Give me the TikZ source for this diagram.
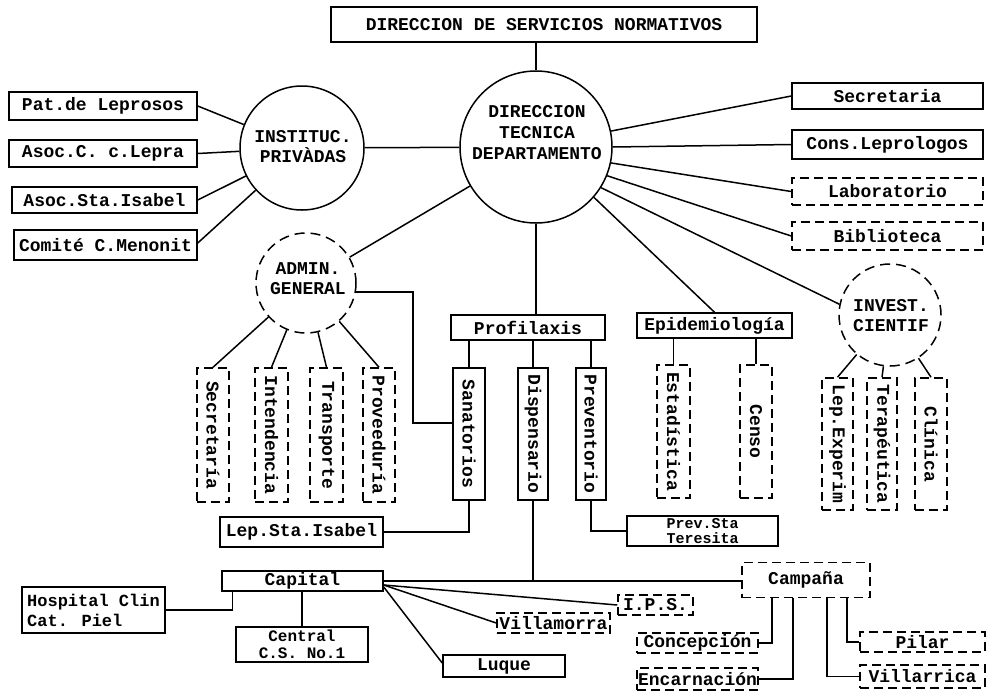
\documentclass[tikz,border=0pt]{standalone}
\usepackage{fontspec}
\setmainfont{Liberation Mono}
\usepackage{graphicx}
\begin{document}
\begin{tikzpicture}[x=1pt,y=-1pt,line width=1.5pt,
  every node/.style={font=\fontsize{18}{20}\selectfont\bfseries},
  box/.style={draw, line width=1.5pt, inner sep=0pt},
  dbox/.style={box, dash pattern=on 9pt off 5pt},
  circ/.style={draw, circle, line width=1.5pt, inner sep=0pt},
  dcirc/.style={circ, dash pattern=on 10pt off 6pt},
  lbl/.style={align=center, inner sep=0pt}]
\useasboundingbox (0,0) rectangle (987,694);
\fill[white] (0,0) rectangle (987,694);

% top level
\node[box, minimum width=426pt, minimum height=35pt] (top) at (544,24.5) {DIRECCION DE SERVICIOS NORMATIVOS};
\node[circ, minimum size=152pt] (main) at (536,147) {};
\node[lbl, font=\fontsize{18}{21}\selectfont\bfseries] (maint) at (537,133) {DIRECCION\\TECNICA\\DEPARTAMENTO};
\node[circ, minimum size=124pt] (inst) at (302,148) {};
\node[lbl] (instt) at (303,147) {INSTITUC.\\PRIVÀDAS};
\node[dcirc, minimum size=100pt] (admin) at (306,283) {};
\node[lbl] (admint) at (308,279) {ADMIN.\\GENERAL};
\node[dcirc, minimum size=102pt] (invest) at (890,315) {};
\node[lbl] (investt) at (891,316) {INVEST.\\CIENTIF};

% left boxes
\node[box, minimum width=188pt, minimum height=28pt] (pat) at (103,106) {Pat.de Leprosos};
\node[box, minimum width=188pt, minimum height=27pt] (asocc) at (103,153.5) {Asoc.C. c.Lepra};
\node[box, minimum width=185pt, minimum height=26pt] (asocs) at (104.5,200) {Asoc.Sta.Isabel};
\node[box, minimum width=183pt, minimum height=30pt] (comite) at (105.5,245) {Comité C.Menonit};

% right boxes
\node[box, minimum width=191pt, minimum height=26pt] (secr) at (887.5,96) {Secretaria};
\node[box, minimum width=191pt, minimum height=29pt] (cons) at (887.5,144.5) {Cons.Leprologos};
\node[dbox, minimum width=191pt, minimum height=27pt] (lab) at (887.5,191.5) {Laboratorio};
\node[dbox, minimum width=191pt, minimum height=28pt] (bib) at (887.5,236) {Biblioteca};

% profilaxis
\node[box, minimum width=154pt, minimum height=25pt] (profil) at (528,327.5) {Profilaxis};
\node[box, minimum width=32pt, minimum height=132pt] (sanat) at (469,434) {\rotatebox{-90}{Sanatorios}};
\node[box, minimum width=30pt, minimum height=132pt] (disp) at (533,434) {\rotatebox{-90}{Dispensario}};
\node[box, minimum width=30pt, minimum height=132pt] (prev) at (591,434) {\rotatebox{-90}{Preventorio}};

% admin subs
\node[dbox, minimum width=32pt, minimum height=134pt] (secA) at (213,435) {\rotatebox{-90}{Secretaría}};
\node[dbox, minimum width=33pt, minimum height=134pt] (intend) at (271.5,435) {\rotatebox{-90}{Intendencia}};
\node[dbox, minimum width=33pt, minimum height=134pt] (transp) at (326.5,435) {\rotatebox{-90}{Transporte}};
\node[dbox, minimum width=32pt, minimum height=134pt] (prov) at (379,435) {\rotatebox{-90}{Proveeduría}};

% epidemiologia
\node[box, minimum width=155pt, minimum height=25pt] (epi) at (714.5,325.5) {Epidemiología};
\node[dbox, minimum width=33pt, minimum height=133pt] (estad) at (673.5,431.5) {\rotatebox{-90}{Estadística}};
\node[dbox, minimum width=32pt, minimum height=133pt] (censo) at (756,431.5) {\rotatebox{-90}{Censo}};

% invest subs
\node[dbox, minimum width=31pt, minimum height=132pt] (lepexp) at (837.5,444) {\rotatebox{-90}{Lep.Experim}};
\node[dbox, minimum width=30pt, minimum height=132pt] (terap) at (882,444) {\rotatebox{-90}{Terapéutica}};
\node[dbox, minimum width=32pt, minimum height=132pt] (clin) at (931,444) {\rotatebox{-90}{Clínica}};

% lower
\node[box, minimum width=163pt, minimum height=30pt] (lepsta) at (301.5,532) {Lep.Sta.Isabel};
\node[box, minimum width=151pt, minimum height=30pt, align=center, font=\fontsize{15}{15}\selectfont\bfseries] (prevsta) at (702.5,531) {Prev.Sta\\Teresita};
\node[box, minimum width=161pt, minimum height=20pt] (capital) at (302.5,581) {Capital};
\node[box, minimum width=143pt, minimum height=46pt, align=left, font=\fontsize{17}{20}\selectfont\bfseries] (hosp) at (93.5,610) {Hospital Clin\\Cat. Piel};
\node[box, minimum width=132pt, minimum height=35pt, align=center, font=\fontsize{16}{17}\selectfont\bfseries] (central) at (302,644.5) {Central\\C.S. No.1};
\node[box, minimum width=122pt, minimum height=22pt] (luque) at (504,666) {Luque};
\node[dbox, minimum width=113pt, minimum height=20pt] (villa) at (553.5,623) {Villamorra};
\node[dbox, minimum width=75pt, minimum height=20pt] (ips) at (655.5,605) {I.P.S.};
\node[dbox, minimum width=128pt, minimum height=35pt] (campana) at (806,580) {Campaña};
\node[dbox, minimum width=121pt, minimum height=20pt] (conc) at (697.5,643) {Concepción};
\node[dbox, minimum width=121pt, minimum height=22pt] (encar) at (697.5,679) {Encarnación};
\node[dbox, minimum width=125pt, minimum height=20pt] (pilar) at (922.5,642) {Pilar};
\node[dbox, minimum width=125pt, minimum height=23pt] (villr) at (922.5,676.5) {Villarrica};

% connectors
\draw (main.north) -- (main.north |- top.south);
\draw (inst) -- (main);
\draw (pat.east) -- (inst);
\draw (asocc.east) -- (inst);
\draw (asocs.east) -- (inst);
\draw ([yshift=2pt]comite.east) -- (inst);
\draw (main.12) -- (secr.west);
\draw (main.0) -- (cons.west);
\draw (main.-12) -- (lab.west);
\draw (main.-22) -- (bib.west);
\draw (main.-32) -- (invest.168);
\draw (main.-41) -- (epi.north);
\draw (main) -- (admin);
\draw (main.south) -- (main.south |- profil.north);
\draw (admin) -- (secA.north);
\draw (admin) -- (intend.north);
\draw (admin) -- (transp.north);
\draw (admin) -- (prov.north);
\coordinate (jadm) at (413,423);
\draw (admin.-10) -| (jadm) -- ([yshift=11pt]sanat.west);
\draw (sanat.north) -- (sanat.north |- profil.south);
\draw (disp.north) -- (disp.north |- profil.south);
\draw (prev.north) -- (prev.north |- profil.south);
\draw (estad.north) -- (estad.north |- epi.south);
\draw (censo.north) -- (censo.north |- epi.south);
\draw (invest) -- (lepexp.north);
\draw (invest) -- (terap.north);
\draw (invest) -- (clin.north);
\draw (sanat.south) |- (lepsta.east);
\draw (prev.south) |- (prevsta.west);
\draw (disp.south) -- (disp.south |- capital.east);
\draw (capital.east) -- (capital.east -| campana.west);
\draw ([yshift=-4pt]capital.east) -- (ips.west);
\draw ([yshift=-4pt]capital.east) -- (villa.west);
\draw ([yshift=-6pt]capital.east) -- ([yshift=3pt]luque.west);
\draw ([xshift=-70pt]capital.south) |- (hosp.east);
\draw (central.north) -- (central.north |- capital.south);
\draw ([xshift=-34pt]campana.south) |- (conc.east);
\draw ([xshift=-13pt]campana.south) |- (encar.east);
\draw ([xshift=21pt]campana.south) |- (villr.west);
\draw ([xshift=41pt]campana.south) |- (pilar.west);
\end{tikzpicture}
\end{document}
